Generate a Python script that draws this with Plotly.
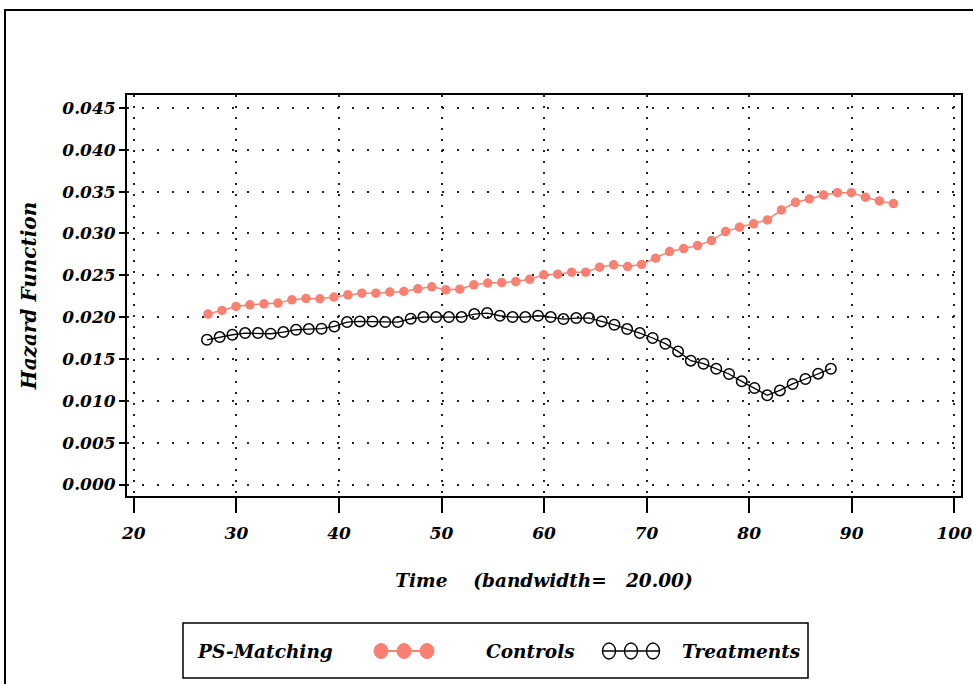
import plotly.graph_objects as go

# ---------------- data ----------------
control_time = [27.23, 28.59, 29.96, 31.32, 32.69, 34.05, 35.41, 36.78, 38.14, 39.51,
                40.87, 42.23, 43.60, 44.96, 46.33, 47.69, 49.05, 50.42, 51.78, 53.15,
                54.51, 55.87, 57.24, 58.60, 59.97, 61.33, 62.69, 64.06, 65.42, 66.79,
                68.15, 69.51, 70.88, 72.24, 73.61, 74.97, 76.33, 77.70, 79.06, 80.43,
                81.79, 83.15, 84.52, 85.88, 87.25, 88.61, 89.97, 91.34, 92.70, 94.07]
control_hazard = [0.02037, 0.02080, 0.02128, 0.02148, 0.02160, 0.02168, 0.02208, 0.02223, 0.02220, 0.02240,
                  0.02267, 0.02287, 0.02287, 0.02300, 0.02307, 0.02339, 0.02363, 0.02327, 0.02335, 0.02387,
                  0.02407, 0.02414, 0.02426, 0.02452, 0.02506, 0.02514, 0.02538, 0.02538, 0.02598, 0.02625,
                  0.02605, 0.02630, 0.02705, 0.02784, 0.02820, 0.02856, 0.02915, 0.03023, 0.03075, 0.03115,
                  0.03162, 0.03282, 0.03373, 0.03413, 0.03461, 0.03488, 0.03488, 0.03433, 0.03389, 0.03357]

treat_time = [27.13, 28.37, 29.61, 30.85, 32.10, 33.34, 34.58, 35.82, 37.06, 38.30,
              39.55, 40.79, 42.03, 43.27, 44.51, 45.75, 47.00, 48.24, 49.48, 50.72,
              51.96, 53.20, 54.45, 55.69, 56.93, 58.17, 59.41, 60.65, 61.89, 63.14,
              64.38, 65.62, 66.86, 68.10, 69.34, 70.59, 71.83, 73.07, 74.31, 75.55,
              76.79, 78.04, 79.28, 80.52, 81.76, 83.00, 84.24, 85.49, 86.73, 87.97]
treat_hazard = [0.01730, 0.01762, 0.01790, 0.01810, 0.01810, 0.01802, 0.01822, 0.01850, 0.01858, 0.01862,
                0.01889, 0.01941, 0.01949, 0.01949, 0.01941, 0.01941, 0.01981, 0.02001, 0.02001, 0.02001,
                0.02001, 0.02037, 0.02049, 0.02017, 0.02001, 0.02001, 0.02017, 0.02001, 0.01977, 0.01989,
                0.01989, 0.01949, 0.01909, 0.01858, 0.01810, 0.01751, 0.01683, 0.01591, 0.01480, 0.01444,
                0.01384, 0.01321, 0.01233, 0.01154, 0.01066, 0.01125, 0.01202, 0.01261, 0.01325, 0.01384]

x_ticks = [20, 30, 40, 50, 60, 70, 80, 90, 100]
y_ticks = [0.000, 0.005, 0.010, 0.015, 0.020, 0.025, 0.030, 0.035, 0.040, 0.045]
y_tick_labels = ["0.000", "0.005", "0.010", "0.015", "0.020", "0.025", "0.030", "0.035", "0.040", "0.045"]

legend_title = "PS-Matching"
series_names = ["Controls", "Treatments"]
x_title = "Time\u00a0\u00a0\u00a0\u00a0(bandwidth=\u00a0\u00a0\u00a020.00)"
y_title = "Hazard Function"

# ---------------- style ----------------
W, H = 973, 684
L, R, T, B = 127, 12, 95, 188
PW, PH = W - L - R, H - T - B
SALMON = "#FA8072"
FONT = dict(family="DejaVu Serif", size=17, color="black", weight="bold", style="italic")


def px_x(p):
    return (p - L) / PW


def px_y(p):
    return (H - B - p) / PH


fig = go.Figure()
fig.add_trace(go.Scatter(x=control_time, y=control_hazard, mode="lines+markers", name=series_names[0],
                         line=dict(color=SALMON, width=1.5),
                         marker=dict(symbol="circle", size=9.5, color=SALMON)))
fig.add_trace(go.Scatter(x=treat_time, y=treat_hazard, mode="lines+markers", name=series_names[1],
                         line=dict(color="black", width=1.3),
                         marker=dict(symbol="circle-open", size=10.5, color="black", line=dict(width=1.5))))

fig.update_layout(
    width=W, height=H,
    margin=dict(l=L, r=R, t=T, b=B, autoexpand=False),
    paper_bgcolor="white", plot_bgcolor="white",
    showlegend=False,
    font=FONT,
)

fig.update_xaxes(
    range=[19.33, 100.66], tickvals=x_ticks, ticktext=[str(v) for v in x_ticks],
    showline=True, mirror=True, linecolor="black", linewidth=2,
    ticks="outside", ticklen=15, tickwidth=2, tickcolor="black",
    showgrid=True, gridcolor="#222", gridwidth=1.6, griddash="2px,9px",
    zeroline=False, tickfont=dict(size=17), ticklabelstandoff=6,
    title=dict(text=x_title, font=dict(size=18.5), standoff=32),
)
fig.update_yaxes(
    range=[-0.00137, 0.04655], tickvals=y_ticks, ticktext=y_tick_labels,
    showline=True, mirror=True, linecolor="black", linewidth=2,
    ticks="outside", ticklen=6, tickwidth=1.5, tickcolor="black",
    showgrid=True, gridcolor="#222", gridwidth=1.6, griddash="2px,13px",
    zeroline=False, tickfont=dict(size=17),
    title=dict(text=y_title, font=dict(size=20), standoff=20),
)

shapes = []
# outer frame
shapes.append(dict(type="rect", xref="paper", yref="paper",
                   x0=px_x(5), x1=px_x(995), y0=px_y(10), y1=px_y(710),
                   line=dict(color="black", width=2), fillcolor="rgba(0,0,0,0)", layer="below"))
# legend box
shapes.append(dict(type="rect", xref="paper", yref="paper",
                   x0=px_x(183), x1=px_x(808), y0=px_y(623), y1=px_y(678),
                   line=dict(color="black", width=1.5)))
ly = 651
# controls legend symbol
shapes.append(dict(type="line", xref="paper", yref="paper", x0=px_x(376), x1=px_x(432),
                   y0=px_y(ly), y1=px_y(ly), line=dict(color=SALMON, width=2)))
for cx in (381, 404, 427):
    shapes.append(dict(type="circle", xref="paper", yref="paper",
                       x0=px_x(cx - 7), x1=px_x(cx + 7), y0=px_y(ly - 7.5), y1=px_y(ly + 7.5),
                       line=dict(color=SALMON, width=1), fillcolor=SALMON))
# treatments legend symbol
shapes.append(dict(type="line", xref="paper", yref="paper", x0=px_x(603), x1=px_x(660),
                   y0=px_y(ly), y1=px_y(ly), line=dict(color="black", width=1.3)))
for cx in (609, 631, 653):
    shapes.append(dict(type="circle", xref="paper", yref="paper",
                       x0=px_x(cx - 6.5), x1=px_x(cx + 6.5), y0=px_y(ly - 8), y1=px_y(ly + 8),
                       line=dict(color="black", width=1.4), fillcolor="rgba(0,0,0,0)"))
fig.update_layout(shapes=shapes)

annotations = [
    dict(text=legend_title, x=px_x(195), y=px_y(ly), xanchor="left", yanchor="middle"),
    dict(text=series_names[0], x=px_x(484), y=px_y(ly), xanchor="left", yanchor="middle"),
    dict(text=series_names[1], x=px_x(680), y=px_y(ly), xanchor="left", yanchor="middle"),
]
for a in annotations:
    a.update(xref="paper", yref="paper", showarrow=False, font=dict(size=18.5))
fig.update_layout(annotations=annotations)

fig.write_html("out.html", config={"displayModeBar": False},
               post_script="document.body.style.margin='0';")
